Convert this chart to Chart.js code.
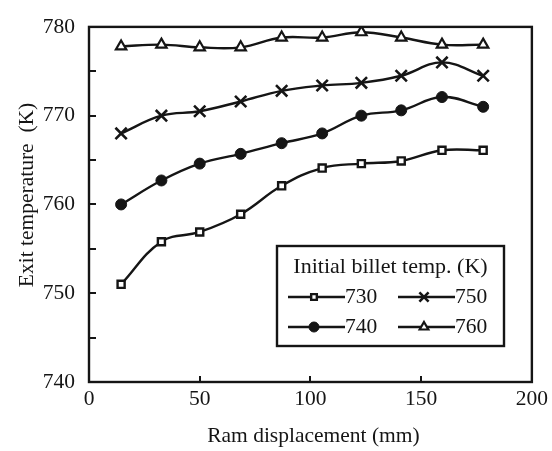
<!DOCTYPE html>
<html><head><meta charset="utf-8">
<script src="https://cdn.jsdelivr.net/npm/chart.js@4.4.0/dist/chart.umd.min.js"></script>
<style>html,body{margin:0;padding:0;background:#fff}canvas{display:block}</style>
</head><body>
<canvas id="c" width="552" height="451"></canvas>
<script>
const ramDisplacement = [14.5, 32.7, 50, 68.5, 87, 105.3, 123, 141, 159.4, 178];
const s730 = [751.0, 755.8, 756.9, 758.9, 762.1, 764.1, 764.6, 764.9, 766.1, 766.1];
const s740 = [760.0, 762.7, 764.6, 765.7, 766.9, 768.0, 770.0, 770.6, 772.1, 771.0];
const s750 = [768.0, 770.0, 770.5, 771.6, 772.8, 773.4, 773.7, 774.5, 776.0, 774.5];
const s760 = [777.8, 778.0, 777.7, 777.7, 778.8, 778.8, 779.4, 778.8, 778.0, 778.0];
const seriesNames = ['730', '740', '750', '760'];
const legendTitle = 'Initial billet temp. (K)';
const xTitle = 'Ram displacement (mm)';
const yTitle = 'Exit temperature  (K)';

const FONT = '"Liberation Serif", "Times New Roman", serif';
const INK = '#151515';
const FS = 21.5;

function pts(vals){ return vals.map((v,i)=>({x: ramDisplacement[i], y: v})); }
function ds(label, vals, style, radius, fill, bw, legR){
  return {label, data: pts(vals), borderColor: INK, borderWidth: 2.4, tension: 0.4,
    pointStyle: style, pointRadius: radius, pointHoverRadius: radius,
    pointBackgroundColor: fill, pointBorderColor: INK, pointBorderWidth: bw, fill: false, legR};
}

const datasets = [
  ds(seriesNames[0], s730, 'rect', 5, '#fff', 2.4, 4),
  ds(seriesNames[1], s740, 'circle', 5.5, INK, 1, 5),
  ds(seriesNames[2], s750, 'crossRot', 8, INK, 2.6, 6.5),
  ds(seriesNames[3], s760, 'triangle', 6, '#fff', 2.2, 5)
];

const decor = {
  id: 'decor',
  afterDatasetsDraw(chart){
    const ctx = chart.ctx, a = chart.chartArea;
    const xs = chart.scales.x, ys = chart.scales.y;
    ctx.save();
    ctx.strokeStyle = INK; ctx.lineWidth = 2.4;
    ctx.strokeRect(a.left, a.top, a.right - a.left, a.bottom - a.top);
    // inner ticks
    ctx.lineWidth = 2;
    ctx.beginPath();
    for (let v = 745; v < 780; v += 5){
      const y = Math.round(ys.getPixelForValue(v));
      ctx.moveTo(a.left, y); ctx.lineTo(a.left + 7, y);
    }
    for (let v = 50; v < 200; v += 50){
      const x = Math.round(xs.getPixelForValue(v));
      ctx.moveTo(x, a.bottom); ctx.lineTo(x, a.bottom - 6);
    }
    ctx.stroke();
    // axis titles
    ctx.fillStyle = INK;
    ctx.font = FS + 'px ' + FONT;
    ctx.textAlign = 'center'; ctx.textBaseline = 'middle';
    ctx.fillText(xTitle, (a.left + a.right)/2 + 3, 436);
    ctx.save();
    ctx.translate(27, 195);
    ctx.rotate(-Math.PI/2);
    ctx.fillText(yTitle, 0, 0);
    ctx.restore();
    // legend
    const bx = 277, by = 246, bw = 227, bh = 100;
    ctx.fillStyle = '#fff';
    ctx.fillRect(bx, by, bw, bh);
    ctx.lineWidth = 2.4;
    ctx.strokeRect(bx, by, bw, bh);
    ctx.fillStyle = INK;
    ctx.textAlign = 'center';
    ctx.font = '22px ' + FONT;
    ctx.fillText(legendTitle, bx + bw/2, 267);
    ctx.font = FS + 'px ' + FONT;
    const slots = [[288, 297], [288, 327], [398, 297], [398, 327]];
    chart.data.datasets.forEach((d, i) => {
      const [lx, ly] = slots[i];
      ctx.strokeStyle = INK; ctx.lineWidth = 2.4;
      ctx.beginPath(); ctx.moveTo(lx, ly); ctx.lineTo(lx + 57, ly); ctx.stroke();
      ctx.fillStyle = d.pointBackgroundColor; ctx.strokeStyle = INK; ctx.lineWidth = d.pointBorderWidth;
      Chart.helpers.drawPoint(ctx, {pointStyle: d.pointStyle, radius: d.legR, borderWidth: d.pointBorderWidth}, lx + 26, ly);
      ctx.fillStyle = INK;
      ctx.textAlign = 'left';
      ctx.fillText(d.label, lx + 57, ly);
    });
    ctx.restore();
  }
};

new Chart(document.getElementById('c'), {
  type: 'line',
  data: { datasets },
  options: {
    responsive: false, animation: false,
    layout: { padding: { top: 21, right: 17, left: 0, bottom: 0 } },
    plugins: { legend: { display: false }, tooltip: { enabled: false } },
    scales: {
      x: { type: 'linear', min: 0, max: 200,
        ticks: { stepSize: 50, color: INK, font: { family: FONT, size: FS }, padding: 4, maxRotation: 0 },
        grid: { display: false, drawTicks: false }, border: { display: false },
        afterFit(s){ s.height = 69; } },
      y: { min: 740, max: 780,
        ticks: { stepSize: 10, color: INK, font: { family: FONT, size: FS }, padding: 14 },
        grid: { display: false, drawTicks: false }, border: { display: false },
        afterFit(s){ s.width = 89; } }
    }
  },
  plugins: [decor]
});
</script>
</body></html>
